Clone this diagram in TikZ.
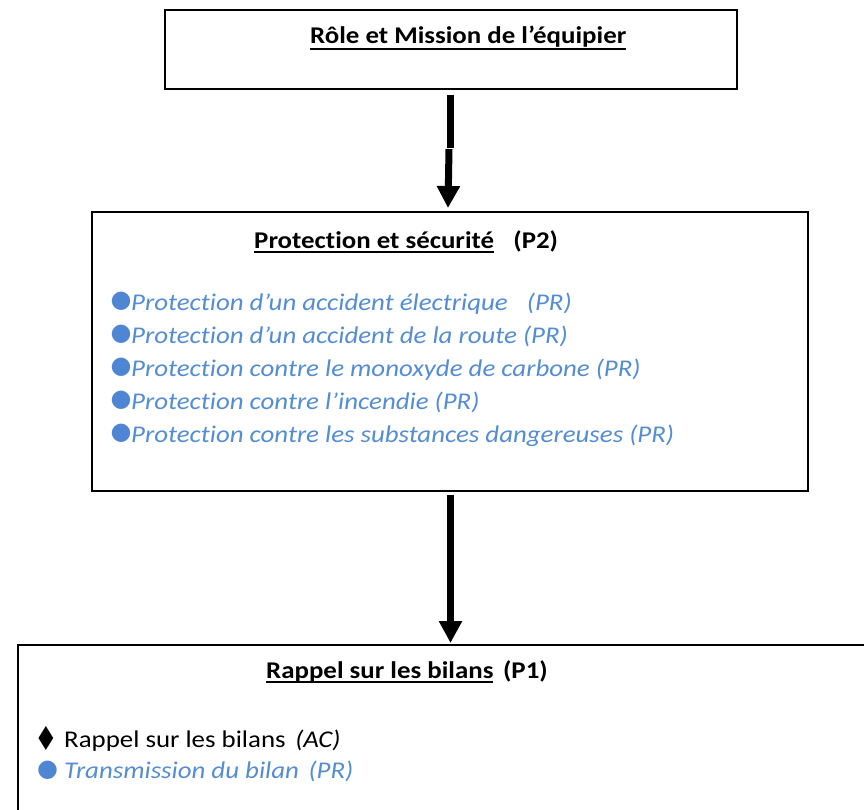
\documentclass[tikz,border=0pt]{standalone}
\usepackage{fontspec}
\setmainfont{Carlito}[FakeStretch=1.12,Ligatures={NoCommon}]
\newfontfamily\symfont{DejaVu Sans}
\usetikzlibrary{arrows.meta,calc}
\definecolor{itemblue}{HTML}{548DD4}
\definecolor{dotblue}{HTML}{4F86D4}
\newcommand{\myul}[2]{\setbox0\hbox{#2}\rlap{\rule[#1]{\wd0}{2pt}}\box0}
\tikzset{
  box/.style={draw=black,line width=2pt,rectangle,inner sep=0pt,anchor=north west},
  ttl/.style={anchor=base west,inner sep=0pt,font=\fontsize{24}{28}\selectfont\bfseries},
  itm/.style={anchor=base west,inner sep=0pt,font=\fontsize{24}{28}\selectfont\itshape,text=itemblue},
  plain/.style={anchor=base west,inner sep=0pt,font=\fontsize{24}{28}\selectfont},
  dot/.style={anchor=center,inner sep=0pt,font=\fontsize{24}{28}\symfont,text=dotblue},
  bigarrow/.style={line width=7pt,-{Triangle[width=22pt,length=22pt]}},
  shaft/.style={line width=7pt}
}
\begin{document}
\begin{tikzpicture}[x=1pt,y=-1pt]
\useasboundingbox (0,0) rectangle (864,810);
\clip (0,0) rectangle (864,810);
\fill[white] (0,0) rectangle (864,810);
% boxes
\node[box,minimum width=572pt,minimum height=79pt] (top) at (164,9) {};
\node[box,minimum width=716pt,minimum height=279pt] (mid) at (91,211) {};
\node[box,minimum width=860pt,minimum height=200pt] (bot) at (17,644) {};
% titles
\node[ttl] (t1) at (310,44) {\myul{-6pt}{Rôle et Mission de l’équipier}};
\node[ttl] (t2) at (254,248) {\myul{-4.5pt}{Protection et sécurité}\hspace{0.8em}(P2)};
\node[ttl] (t3) at (266,678) {\myul{-4.5pt}{Rappel sur les bilans}\hspace{0.4em}(P1)};
% middle items
\foreach \y/\txt [count=\i] in {310/{Protection d’un accident électrique\hspace{0.8em}(PR)},
  343/{Protection d’un accident de la route (PR)},
  376/{Protection contre le monoxyde de carbone (PR)},
  409/{Protection contre l’incendie (PR)},
  442/{Protection contre les substances dangereuses (PR)}}{
  \node[dot] (d\i) at (121,\y-8.5) {●};
  \node[itm] (i\i) at (131,\y) {\txt};
}
% bottom items
\node[anchor=center,inner sep=0pt,xscale=0.8,font=\fontsize{33}{34}\symfont] (dm) at (46.5,738.5) {♦};
\node[plain] (b1) at (64,747) {Rappel sur les bilans\hspace{0.4em}\textit{(AC)}};
\node[dot] (bd) at (47.5,770.5) {●};
\node[itm] (b2) at (64,778) {Transmission du bilan\hspace{0.4em}(PR)};
% arrows
\coordinate (a1s) at ($(top.south)+(-0.5,5)$);
\coordinate (a1j) at ($(top.south)+(-0.5,59)$);
\coordinate (a1k) at ($(top.south)+(-2,59)$);
\coordinate (a1e) at ($(mid.north)+(-2,-3)$);
\draw[shaft] (a1s) -- ([yshift=1pt]a1j);
\draw[bigarrow] (a1k) -- (a1e);
\coordinate (a2s) at ($(mid.south)+(0.5,3)$);
\coordinate (a2e) at ($(bot.north west)!(a2s)!(bot.north east)+(0,-1)$);
\draw[bigarrow] (a2s) -- (a2e);
\end{tikzpicture}
\end{document}
